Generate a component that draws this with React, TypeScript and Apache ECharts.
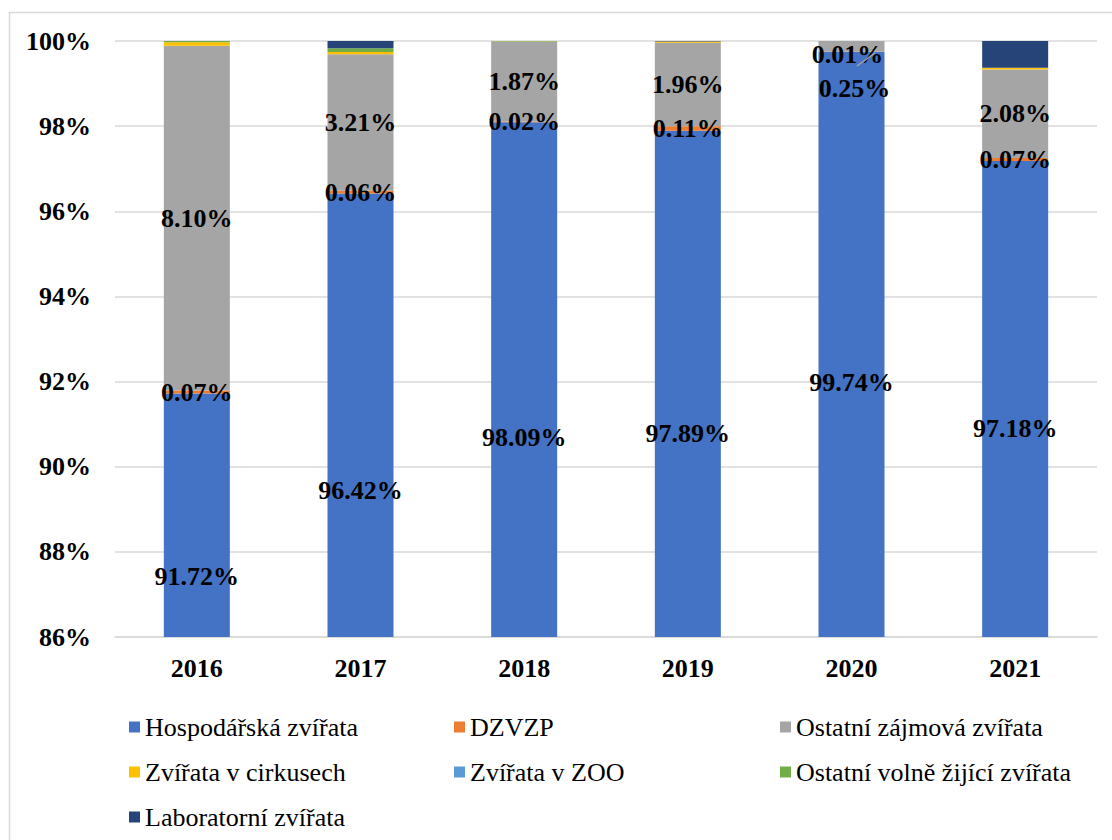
import React, { useEffect, useRef } from "react";
import * as echarts from "echarts";

const years = ["2016", "2017", "2018", "2019", "2020", "2021"];
const seriesNames = [
  "Hospodářská zvířata",
  "DZVZP",
  "Ostatní zájmová zvířata",
  "Zvířata v cirkusech",
  "Zvířata v ZOO",
  "Ostatní volně žijící zvířata",
  "Laboratorní zvířata",
];
const hospodarska = [91.72, 96.42, 98.09, 97.89, 99.74, 97.18];
const dzvzp = [0.07, 0.06, 0.02, 0.11, 0.01, 0.07];
const ostatniZajmova = [8.1, 3.21, 1.87, 1.96, 0.25, 2.08];
const cirkusy = [0.08, 0.05, 0.01, 0.03, 0.0, 0.04];
const zoo = [0.0, 0.0, 0.0, 0.0, 0.0, 0.0];
const volneZijici = [0.03, 0.09, 0.01, 0.0, 0.004, 0.0];
const laboratorni = [0.0, 0.17, 0.0, 0.01, 0.0, 0.63];
const yTicks = { min: 86, max: 100, interval: 2 };

const colors = ["#4472C4", "#ED7D31", "#A5A5A5", "#FFC000", "#5B9BD5", "#70AD47", "#264478"];

// label placement (pixels, relative to the top-left of the bar segment)
const hospLabelDy = [183, 297, 315, 303, 330, 267];
const FONT = "Liberation Serif";

export default function App() {
  const ref = useRef<HTMLDivElement>(null);
  useEffect(() => {
    const chart = echarts.init(ref.current!, null, { renderer: "svg" });
    const fmt = (p: any) => Number(p.value).toFixed(2) + "%";
    const labelBase = {
      show: true,
      formatter: fmt,
      color: "#000",
      fontFamily: FONT,
      fontWeight: "bold",
      fontSize: 26,
    };
    const values = [hospodarska, dzvzp, ostatniZajmova, cirkusy, zoo, volneZijici, laboratorni];
    const series = values.map((vals, si) => {
      const data = vals.map((v, i) => {
        if (si === 0) {
          return {
            value: v,
            label: { position: ["50%", hospLabelDy[i]], align: "center", verticalAlign: "middle" },
          };
        }
        if (si === 1 && i === 4) {
          return { value: v, label: { position: [29, 3], align: "center", verticalAlign: "middle" } };
        }
        if (si === 2 && i === 4) {
          return { value: v, label: { position: [36, 47], align: "center", verticalAlign: "middle" } };
        }
        return v;
      });
      return {
        name: seriesNames[si],
        type: "bar",
        stack: "total",
        barWidth: 66,
        clip: true,
        itemStyle: { color: colors[si] },
        label: si < 3 ? { ...labelBase, position: "inside" } : { show: false },
        emphasis: { disabled: true },
        data,
      };
    });
    const legendText = { fontFamily: FONT, fontSize: 26, color: "#000", lineHeight: 26 };
    const mkLegend = (left: number, names: string[]) => ({
      orient: "vertical",
      left,
      top: 709,
      itemWidth: 11,
      itemHeight: 11,
      itemGap: 19,
      icon: "rect",
      textStyle: legendText,
      data: names,
      selectedMode: false,
    });
    chart.setOption({
      animation: false,
      backgroundColor: "#fff",
      textStyle: { fontFamily: FONT },
      grid: { left: 115, right: 15, top: 41, bottom: 203 },
      xAxis: {
        type: "category",
        data: years,
        axisLine: { show: true, lineStyle: { color: "#d9d9d9", width: 1.5 } },
        axisTick: { show: false },
        axisLabel: {
          color: "#000",
          fontFamily: FONT,
          fontWeight: "bold",
          fontSize: 26,
          margin: 18,
        },
      },
      yAxis: {
        type: "value",
        min: yTicks.min,
        max: yTicks.max,
        interval: yTicks.interval,
        axisLine: { show: false },
        axisTick: { show: false },
        splitLine: { lineStyle: { color: "#d9d9d9", width: 1.5 } },
        axisLabel: {
          formatter: "{value}%",
          color: "#000",
          fontFamily: FONT,
          fontWeight: "bold",
          fontSize: 26,
          margin: 24,
        },
      },
      legend: [
        mkLegend(124, [seriesNames[0], seriesNames[3], seriesNames[6]]),
        mkLegend(449, [seriesNames[1], seriesNames[4]]),
        mkLegend(775, [seriesNames[2], seriesNames[5]]),
      ],
      graphic: [
        {
          type: "rect",
          silent: true,
          z: -10,
          shape: { x: 9.5, y: 12.5, width: 1200, height: 1000 },
          style: { fill: "none", stroke: "#d9d9d9", lineWidth: 1.5 },
        },
        {
          type: "line",
          silent: true,
          z: 100,
          shape: { x1: 857, y1: 66, x2: 875, y2: 53 },
          style: { stroke: "#a6a6a6", lineWidth: 1.5 },
        },
      ],
      series,
    });
    return () => chart.dispose();
  }, []);
  return (
    <div
      ref={ref}
      style={{ position: "fixed", left: 0, top: 0, width: 1112, height: 840, background: "#fff" }}
    />
  );
}
